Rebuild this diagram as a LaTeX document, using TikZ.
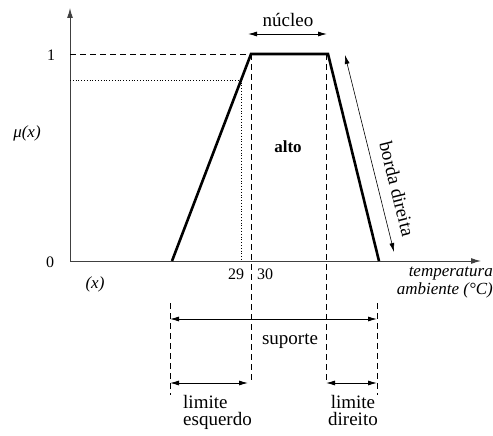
\documentclass[tikz,border=0pt]{standalone}
\usepackage{fontspec}
\setmainfont{Liberation Serif}
\usetikzlibrary{arrows.meta,positioning,calc}

\begin{document}
\begin{tikzpicture}[x=1pt, y=-1pt, >={Latex[length=9pt,width=5pt]}]

\tikzset{
  axis/.style={-{Latex[length=10pt,width=6pt]}, line width=1pt, black!75},
  mf/.style={line width=2.6pt, line join=miter},
  guide/.style={line width=0.7pt, dash pattern=on 6pt off 4pt},
  dotguide/.style={dotted, line width=0.8pt},
  dim/.style={<->, line width=0.8pt},
  lbl/.style={font=\fontsize{19}{17}\selectfont, inner sep=0pt},
  num/.style={font=\fontsize{16}{18}\selectfont, inner sep=0pt},
  var/.style={font=\fontsize{17}{18}\selectfont\itshape, inner sep=0pt}
}

\useasboundingbox (0,0) rectangle (493,436);

% ==========================
% Eixos
% ==========================
\coordinate (O) at (70,261);
\coordinate (ytop) at (70,8);
\coordinate (xend) at (481,261);

\draw[axis] (O) -- (ytop);
\draw[axis] (O) -- (xend);

\node[num, anchor=base] (um) at (51,61) {1};
\node[num, anchor=base] (zero) at (50,267) {0};
\node[var] (mu) at (27,133) {μ(x)};
\node[var] (xvar) at (95,284) {(x)};
\node[var, anchor=north east, align=right] (eixo) at (493,267) {temperatura\\ambiente (°C)};

% ==========================
% Funcao de pertinencia (trapezio)
% ==========================
\coordinate (a) at (172,261);
\coordinate (b) at (251,54);
\coordinate (c) at (328,54);
\coordinate (d) at (379,261);

\draw[mf] (a) -- (b) -- (c) -- (d);

\node[font=\fontsize{17}{19}\selectfont\bfseries, inner sep=0pt] (alto) at (288,147) {alto};

% linhas auxiliares
\coordinate (y1) at (70,54);
\coordinate (ymu) at (70,80);
\coordinate (p) at (241,80);

\draw[guide] (y1) -- (b);
\draw[dotguide] (ymu) -- (p) -- (p |- O);

\node[num, anchor=base] (t29) at (236,279) {29};
\node[num, anchor=base] (t30) at (265,279) {30};

% ==========================
% Nucleo e borda direita
% ==========================
\coordinate (n1) at (248,34);
\coordinate (n2) at (327,34);
\draw[dim] (n1) -- (n2);
\node[lbl, anchor=base] (nucleo) at (288,27) {núcleo};

\coordinate (bd1) at (345,55);
\coordinate (bd2) at (394,252);
\draw[dim, line width=0.6pt] (bd1) -- (bd2);
\node[lbl, rotate=-76] (borda) at (397,189) {borda direita};

% ==========================
% Suporte e limites
% ==========================
\coordinate (gl) at (251,383);
\coordinate (gr0) at (326,54);
\coordinate (gr) at (326,383);
\coordinate (sl0) at (170,303);
\coordinate (sl) at (170,395);
\coordinate (sr0) at (377,303);
\coordinate (sr) at (377,395);

\draw[guide] (b) -- (gl);
\draw[guide] (gr0) -- (gr);
\draw[guide] (sl0) -- (sl);
\draw[guide] (sr0) -- (sr);

\draw[dim] (170,319) coordinate (s1) -- (377,319) coordinate (s2);
\node[lbl, anchor=base] (suporte) at (290,344) {suporte};

\draw[dim] (170,383) coordinate (le1) -- (248,383) coordinate (le2);
\draw[dim] (326,383) coordinate (ld1) -- (377,383) coordinate (ld2);

\node[lbl, anchor=north west, align=left] (lesq) at (183,395) {limite\\esquerdo};
\node[lbl, anchor=north, align=center] (ldir) at (353,395) {limite\\direito};

\end{tikzpicture}
\end{document}
